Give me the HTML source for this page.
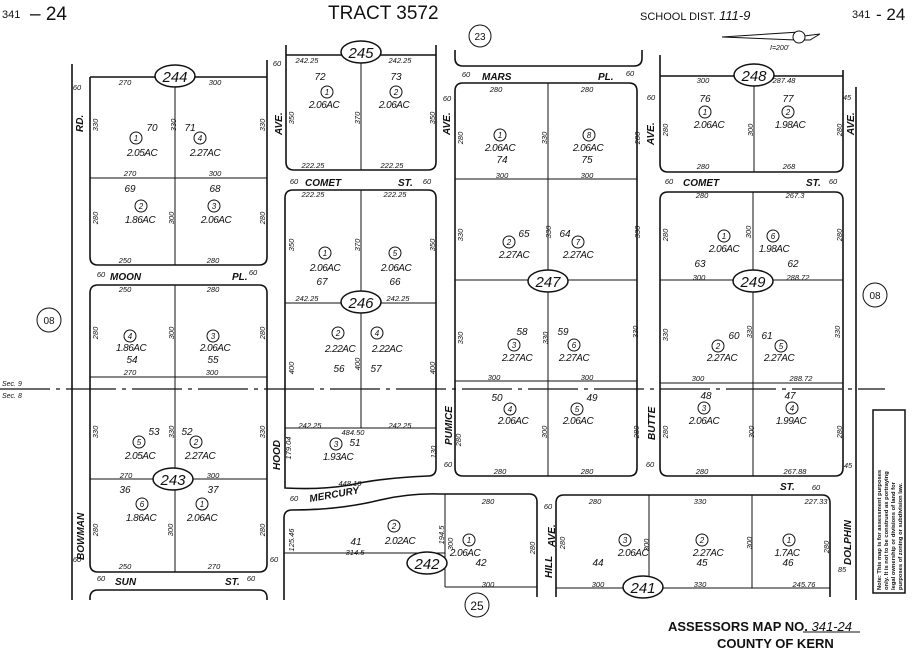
<!DOCTYPE html>
<html><head><meta charset="utf-8"><style>
body{margin:0;background:#fff}
svg{display:block}
text{font-family:"Liberation Sans",sans-serif;fill:#111}
.d{font-size:7.5px;font-style:italic;text-anchor:middle}
.n{font-size:10px;font-style:italic;text-anchor:middle}
.a{font-size:10px;font-style:italic;text-anchor:middle;letter-spacing:-0.5px}
.s{font-size:10px;font-style:italic;font-weight:bold}
.b{fill:none;stroke:#111;stroke-width:1.6}
.l{fill:none;stroke:#111;stroke-width:1}
.c{fill:#fff;stroke:#111;stroke-width:1}
.o{fill:#fff;stroke:#111;stroke-width:1.5}
.ot{font-size:15px;font-style:italic;text-anchor:middle}
</style></head><body>
<svg width="912" height="649" viewBox="0 0 912 649" xmlns="http://www.w3.org/2000/svg">
<!-- header -->
<text x="2" y="18" font-size="11">341</text><text x="30" y="20" font-size="19">– 24</text>
<text x="328" y="19" font-size="19">TRACT 3572</text>
<text x="640" y="20" font-size="11">SCHOOL DIST. <tspan font-style="italic" font-size="13">111-9</tspan></text>
<text x="852" y="18" font-size="11">341</text><text x="876" y="20" font-size="17">- 24</text>
<path d="M722,37 L800,32 L796,37 L820,34 L810,40 L796,40 Z" class="l"/>
<circle cx="799" cy="37" r="6" class="c"/>
<text x="770" y="50" font-size="7" font-style="italic">I=200'</text>

<!-- roads -->
<path class="b" d="M72,64 V600 M856,87 V600"/>
<!-- section line -->
<line x1="0" y1="389" x2="885" y2="389" stroke="#111" stroke-width="1.2" stroke-dasharray="50,6,4,6"/>

<!-- block 244 -->
<path class="b" d="M90,77 H267 M90,77 V257 Q90,265 98,265 H259 Q267,265 267,257 V60"/>
<path class="l" d="M175,77 V265 M90,178 H267"/>
<!-- block 243 -->
<path class="b" d="M90,293 Q90,285 98,285 H259 Q267,285 267,293 V564 Q267,572 259,572 H98 Q90,572 90,564 Z"/>
<path class="l" d="M175,285 V572 M90,377 H267 M90,479 H267"/>
<path class="b" d="M90,600 V598 Q90,590 98,590 H259 Q267,590 267,598 V600"/>
<!-- block 245 -->
<path class="b" d="M286,55 H436 M286,45 V162 Q286,170 294,170 H428 Q436,170 436,162 V45"/>
<path class="l" d="M361,55 V170"/>
<!-- block 246 -->
<path class="b" d="M285,198 Q285,190 293,190 H428 Q436,190 436,198 V468 Q436,476 428,476 Q380,478 350,485 Q320,490 285,488 Z"/>
<path class="l" d="M361,190 V428 M285,303 H436 M285,428 H436"/>
<!-- block 242 -->
<path class="b" d="M284,600 V518 Q284,510 292,510 Q340,510 380,500 Q410,493 440,494 H529 Q537,494 537,502 V597"/>
<path class="l" d="M445,494 V587 M284,553 H445 M445,587 H537"/>
<!-- above Mars -->
<path class="b" d="M455,50 V58 Q455,66 463,66 H634 Q642,66 642,58 V50"/>
<!-- block 247 -->
<path class="b" d="M455,91 Q455,83 463,83 H629 Q637,83 637,91 V468 Q637,476 629,476 H463 Q455,476 455,468 Z"/>
<path class="l" d="M548,83 V476 M455,179 H637 M455,280 H637 M455,381 H637"/>
<!-- block 248 -->
<path class="b" d="M660,76 H843 M660,55 V164 Q660,172 668,172 H835 Q843,172 843,164 V70"/>
<path class="l" d="M754,76 V172"/>
<!-- block 249 -->
<path class="b" d="M660,200 Q660,192 668,192 H835 Q843,192 843,200 V468 Q843,476 835,476 H668 Q660,476 660,468 Z"/>
<path class="l" d="M753,192 V476 M660,280 H843 M660,383 H843"/>
<!-- block 241 -->
<path class="b" d="M556,597 V503 Q556,495 564,495 H822 Q830,495 830,503 V597"/>
<path class="l" d="M649,495 V588 M752,495 V588 M556,588 H830"/>

<!-- circles -->
<circle cx="49" cy="320" r="12" class="c"/><text x="49" y="324" font-size="10" text-anchor="middle">08</text>
<circle cx="875" cy="295" r="12" class="c"/><text x="875" y="299" font-size="10" text-anchor="middle">08</text>
<circle cx="480" cy="36" r="11" class="c"/><text x="480" y="40" font-size="10" text-anchor="middle">23</text>
<circle cx="477" cy="605" r="12" class="c"/><text x="477" y="610" font-size="12" text-anchor="middle">25</text>

<!-- ovals -->
<g>
<ellipse cx="175" cy="76" rx="20" ry="11" class="o"/><text x="175" y="82" class="ot">244</text>
<ellipse cx="361" cy="52" rx="20" ry="11" class="o"/><text x="361" y="58" class="ot">245</text>
<ellipse cx="361" cy="302" rx="20" ry="11" class="o"/><text x="361" y="308" class="ot">246</text>
<ellipse cx="548" cy="281" rx="20" ry="11" class="o"/><text x="548" y="287" class="ot">247</text>
<ellipse cx="754" cy="75" rx="20" ry="11" class="o"/><text x="754" y="81" class="ot">248</text>
<ellipse cx="753" cy="281" rx="20" ry="11" class="o"/><text x="753" y="287" class="ot">249</text>
<ellipse cx="173" cy="479" rx="20" ry="11" class="o"/><text x="173" y="485" class="ot">243</text>
<ellipse cx="427" cy="563" rx="20" ry="11" class="o"/><text x="427" y="569" class="ot">242</text>
<ellipse cx="643" cy="587" rx="20" ry="11" class="o"/><text x="643" y="593" class="ot">241</text>
</g>

<!-- parcel circles -->
<g class="c">
<circle cx="136" cy="138" r="6"/><circle cx="200" cy="138" r="6"/><circle cx="141" cy="206" r="6"/><circle cx="214" cy="206" r="6"/>
<circle cx="130" cy="336" r="6"/><circle cx="213" cy="336" r="6"/><circle cx="139" cy="442" r="6"/><circle cx="196" cy="442" r="6"/>
<circle cx="142" cy="504" r="6"/><circle cx="202" cy="504" r="6"/>
<circle cx="327" cy="92" r="6"/><circle cx="396" cy="92" r="6"/><circle cx="325" cy="253" r="6"/><circle cx="395" cy="253" r="6"/>
<circle cx="338" cy="333" r="6"/><circle cx="377" cy="333" r="6"/><circle cx="336" cy="444" r="6"/>
<circle cx="394" cy="526" r="6"/><circle cx="469" cy="540" r="6"/>
<circle cx="500" cy="135" r="6"/><circle cx="589" cy="135" r="6"/><circle cx="509" cy="242" r="6"/><circle cx="578" cy="242" r="6"/>
<circle cx="514" cy="345" r="6"/><circle cx="574" cy="345" r="6"/><circle cx="510" cy="409" r="6"/><circle cx="577" cy="409" r="6"/>
<circle cx="705" cy="112" r="6"/><circle cx="788" cy="112" r="6"/><circle cx="724" cy="236" r="6"/><circle cx="773" cy="236" r="6"/>
<circle cx="718" cy="346" r="6"/><circle cx="781" cy="346" r="6"/><circle cx="704" cy="408" r="6"/><circle cx="792" cy="408" r="6"/>
<circle cx="625" cy="540" r="6"/><circle cx="702" cy="540" r="6"/><circle cx="789" cy="540" r="6"/>
</g>
<g font-size="8" font-style="italic" text-anchor="middle">
<text x="136" y="141">1</text><text x="200" y="141">4</text><text x="141" y="209">2</text><text x="214" y="209">3</text>
<text x="130" y="339">4</text><text x="213" y="339">3</text><text x="139" y="445">5</text><text x="196" y="445">2</text>
<text x="142" y="507">6</text><text x="202" y="507">1</text>
<text x="327" y="95">1</text><text x="396" y="95">2</text><text x="325" y="256">1</text><text x="395" y="256">5</text>
<text x="338" y="336">2</text><text x="377" y="336">4</text><text x="336" y="447">3</text>
<text x="394" y="529">2</text><text x="469" y="543">1</text>
<text x="500" y="138">1</text><text x="589" y="138">8</text><text x="509" y="245">2</text><text x="578" y="245">7</text>
<text x="514" y="348">3</text><text x="574" y="348">6</text><text x="510" y="412">4</text><text x="577" y="412">5</text>
<text x="705" y="115">1</text><text x="788" y="115">2</text><text x="724" y="239">1</text><text x="773" y="239">6</text>
<text x="718" y="349">2</text><text x="781" y="349">5</text><text x="704" y="411">3</text><text x="792" y="411">4</text>
<text x="625" y="543">3</text><text x="702" y="543">2</text><text x="789" y="543">1</text>
</g>

<!-- acreage & parcel numbers -->
<g class="a">
<text x="142" y="156">2.05AC</text><text x="205" y="156">2.27AC</text><text x="140" y="223">1.86AC</text><text x="216" y="223">2.06AC</text>
<text x="131" y="351">1.86AC</text><text x="215" y="351">2.06AC</text><text x="140" y="459">2.05AC</text><text x="200" y="459">2.27AC</text>
<text x="141" y="521">1.86AC</text><text x="202" y="521">2.06AC</text>
<text x="324" y="108">2.06AC</text><text x="394" y="108">2.06AC</text><text x="325" y="271">2.06AC</text><text x="396" y="271">2.06AC</text>
<text x="340" y="352">2.22AC</text><text x="387" y="352">2.22AC</text><text x="338" y="460">1.93AC</text>
<text x="400" y="544">2.02AC</text><text x="465" y="556">2.06AC</text>
<text x="500" y="151">2.06AC</text><text x="588" y="151">2.06AC</text><text x="514" y="258">2.27AC</text><text x="578" y="258">2.27AC</text>
<text x="517" y="361">2.27AC</text><text x="574" y="361">2.27AC</text><text x="513" y="424">2.06AC</text><text x="578" y="424">2.06AC</text>
<text x="709" y="128">2.06AC</text><text x="790" y="128">1.98AC</text><text x="724" y="252">2.06AC</text><text x="774" y="252">1.98AC</text>
<text x="722" y="361">2.27AC</text><text x="779" y="361">2.27AC</text><text x="704" y="424">2.06AC</text><text x="791" y="424">1.99AC</text>
<text x="633" y="556">2.06AC</text><text x="708" y="556">2.27AC</text><text x="787" y="556">1.7AC</text>
</g>
<g class="n">
<text x="152" y="131">70</text><text x="190" y="131">71</text><text x="130" y="192">69</text><text x="215" y="192">68</text>
<text x="132" y="363">54</text><text x="213" y="363">55</text><text x="154" y="435">53</text><text x="187" y="435">52</text>
<text x="125" y="493">36</text><text x="213" y="493">37</text>
<text x="320" y="80">72</text><text x="396" y="80">73</text><text x="322" y="285">67</text><text x="395" y="285">66</text>
<text x="339" y="372">56</text><text x="376" y="372">57</text><text x="355" y="446">51</text>
<text x="356" y="545">41</text><text x="481" y="566">42</text>
<text x="502" y="163">74</text><text x="587" y="163">75</text><text x="524" y="237">65</text><text x="565" y="237">64</text>
<text x="522" y="335">58</text><text x="563" y="335">59</text><text x="497" y="401">50</text><text x="592" y="401">49</text>
<text x="705" y="102">76</text><text x="788" y="102">77</text><text x="700" y="267">63</text><text x="793" y="267">62</text>
<text x="734" y="339">60</text><text x="767" y="339">61</text><text x="706" y="399">48</text><text x="790" y="399">47</text>
<text x="598" y="566">44</text><text x="702" y="566">45</text><text x="788" y="566">46</text>
</g>

<!-- horizontal dimensions -->
<g class="d">
<text x="125" y="85">270</text><text x="215" y="85">300</text><text x="130" y="176">270</text><text x="215" y="176">300</text>
<text x="125" y="263">250</text><text x="213" y="263">280</text><text x="125" y="292">250</text><text x="213" y="292">280</text>
<text x="130" y="375">270</text><text x="212" y="375">300</text><text x="126" y="478">270</text><text x="213" y="478">300</text>
<text x="125" y="569">250</text><text x="214" y="569">270</text>
<text x="307" y="63">242.25</text><text x="400" y="63">242.25</text><text x="313" y="168">222.25</text><text x="392" y="168">222.25</text>
<text x="313" y="197">222.25</text><text x="395" y="197">222.25</text><text x="307" y="301">242.25</text><text x="398" y="301">242.25</text>
<text x="310" y="428">242.25</text><text x="400" y="428">242.25</text><text x="353" y="435">484.50</text><text x="350" y="486">448.10</text>
<text x="355" y="555">314.5</text><text x="488" y="504">280</text><text x="488" y="587">300</text>
<text x="496" y="92">280</text><text x="587" y="92">280</text><text x="502" y="178">300</text><text x="587" y="178">300</text>
<text x="494" y="380">300</text><text x="587" y="380">300</text><text x="500" y="474">280</text><text x="587" y="474">280</text>
<text x="703" y="83">300</text><text x="784" y="83">287.48</text><text x="703" y="169">280</text><text x="789" y="169">268</text>
<text x="702" y="198">280</text><text x="795" y="198">267.3</text><text x="699" y="280">300</text><text x="798" y="280">288.72</text>
<text x="698" y="381">300</text><text x="801" y="381">288.72</text><text x="702" y="474">280</text><text x="795" y="474">267.88</text>
<text x="595" y="504">280</text><text x="700" y="504">330</text><text x="816" y="504">227.33</text>
<text x="598" y="587">300</text><text x="700" y="587">330</text><text x="804" y="587">245.76</text>
<text x="77" y="90">60</text><text x="77" y="562">60</text><text x="277" y="66">60</text><text x="274" y="562">60</text>
<text x="447" y="101">60</text><text x="448" y="467">60</text><text x="651" y="100">60</text><text x="650" y="467">60</text>
<text x="847" y="100">45</text><text x="848" y="468">45</text><text x="842" y="572">85</text>
</g>
<!-- vertical dimensions -->
<g class="d">
<text transform="translate(98,125) rotate(-90)">330</text><text transform="translate(176,125) rotate(-90)">330</text><text transform="translate(265,125) rotate(-90)">330</text>
<text transform="translate(98,218) rotate(-90)">280</text><text transform="translate(174,218) rotate(-90)">300</text><text transform="translate(265,218) rotate(-90)">280</text>
<text transform="translate(98,333) rotate(-90)">280</text><text transform="translate(174,333) rotate(-90)">300</text><text transform="translate(265,333) rotate(-90)">280</text>
<text transform="translate(98,432) rotate(-90)">330</text><text transform="translate(174,432) rotate(-90)">330</text><text transform="translate(265,432) rotate(-90)">330</text>
<text transform="translate(98,530) rotate(-90)">280</text><text transform="translate(173,530) rotate(-90)">300</text><text transform="translate(265,530) rotate(-90)">280</text>
<text transform="translate(294,118) rotate(-90)">350</text><text transform="translate(360,118) rotate(-90)">370</text><text transform="translate(435,118) rotate(-90)">350</text>
<text transform="translate(294,245) rotate(-90)">350</text><text transform="translate(360,245) rotate(-90)">370</text><text transform="translate(435,245) rotate(-90)">350</text>
<text transform="translate(294,368) rotate(-90)">400</text><text transform="translate(360,364) rotate(-90)">400</text><text transform="translate(435,368) rotate(-90)">400</text>
<text transform="translate(291,448) rotate(-90)">179.04</text><text transform="translate(436,452) rotate(-90)">130</text>
<text transform="translate(294,540) rotate(-90)">125.46</text><text transform="translate(444,535) rotate(-90)">194.5</text><text transform="translate(453,544) rotate(-90)">300</text><text transform="translate(535,548) rotate(-90)">280</text>
<text transform="translate(463,138) rotate(-90)">280</text><text transform="translate(547,138) rotate(-90)">330</text><text transform="translate(640,138) rotate(-90)">280</text>
<text transform="translate(463,235) rotate(-90)">330</text><text transform="translate(551,232) rotate(-90)">330</text><text transform="translate(640,232) rotate(-90)">330</text>
<text transform="translate(463,338) rotate(-90)">330</text><text transform="translate(548,338) rotate(-90)">330</text><text transform="translate(638,332) rotate(-90)">330</text>
<text transform="translate(461,440) rotate(-90)">280</text><text transform="translate(547,432) rotate(-90)">300</text><text transform="translate(639,432) rotate(-90)">280</text>
<text transform="translate(668,130) rotate(-90)">280</text><text transform="translate(753,130) rotate(-90)">300</text><text transform="translate(842,130) rotate(-90)">280</text>
<text transform="translate(668,235) rotate(-90)">280</text><text transform="translate(751,232) rotate(-90)">300</text><text transform="translate(842,235) rotate(-90)">280</text>
<text transform="translate(668,335) rotate(-90)">330</text><text transform="translate(752,332) rotate(-90)">330</text><text transform="translate(840,332) rotate(-90)">330</text>
<text transform="translate(668,432) rotate(-90)">280</text><text transform="translate(754,432) rotate(-90)">300</text><text transform="translate(842,432) rotate(-90)">280</text>
<text transform="translate(565,543) rotate(-90)">280</text><text transform="translate(649,545) rotate(-90)">300</text><text transform="translate(752,543) rotate(-90)">300</text><text transform="translate(829,547) rotate(-90)">280</text>
</g>

<!-- streets -->
<g class="s">
<text x="110" y="280">MOON</text><text x="232" y="280">PL.</text>
<text x="115" y="585">SUN</text><text x="225" y="585">ST.</text>
<text x="305" y="186">COMET</text><text x="398" y="186">ST.</text>
<text x="482" y="80">MARS</text><text x="598" y="80">PL.</text>
<text x="683" y="186">COMET</text><text x="806" y="186">ST.</text>
<text x="780" y="490">ST.</text>
<text transform="translate(310,502) rotate(-10)">MERCURY</text>
<text transform="translate(83,132) rotate(-90)">RD.</text>
<text transform="translate(84,560) rotate(-90)">BOWMAN</text>
<text transform="translate(282,135) rotate(-90)">AVE.</text>
<text transform="translate(280,470) rotate(-90)">HOOD</text>
<text transform="translate(450,135) rotate(-90)">AVE.</text>
<text transform="translate(452,445) rotate(-90)">PUMICE</text>
<text transform="translate(654,145) rotate(-90)">AVE.</text>
<text transform="translate(655,440) rotate(-90)">BUTTE</text>
<text transform="translate(854,135) rotate(-90)">AVE.</text>
<text transform="translate(851,565) rotate(-90)">DOLPHIN</text>
<text transform="translate(555,547) rotate(-90)">AVE.</text>
<text transform="translate(552,578) rotate(-90)">HILL</text>
</g>
<g class="d">
<text x="101" y="277">60</text><text x="253" y="275">60</text><text x="101" y="581">60</text><text x="251" y="581">60</text>
<text x="294" y="184">60</text><text x="427" y="184">60</text><text x="466" y="77">60</text><text x="630" y="76">60</text>
<text x="669" y="184">60</text><text x="833" y="184">60</text><text x="816" y="490">60</text><text x="294" y="501">60</text><text x="548" y="509">60</text>
</g>
<text x="2" y="386" font-size="7" font-style="italic">Sec. 9</text>
<text x="2" y="398" font-size="7" font-style="italic">Sec. 8</text>

<!-- note -->
<rect x="873" y="410" width="32" height="183" fill="#fff" stroke="#111" stroke-width="1.5"/>
<g font-size="5.8" font-weight="bold">
<text transform="translate(881,590) rotate(-90)">Note: This map is for assessment purposes</text>
<text transform="translate(888,590) rotate(-90)">only. It is not to be construed as portraying</text>
<text transform="translate(895,590) rotate(-90)">legal ownership or divisions of land for</text>
<text transform="translate(902,590) rotate(-90)">purposes of zoning or subdivision law.</text>
</g>

<text x="668" y="631" font-size="13" font-weight="bold">ASSESSORS MAP NO. <tspan font-weight="normal" font-style="italic">341-24</tspan></text>
<line x1="803" y1="632" x2="860" y2="632" stroke="#111"/>
<text x="717" y="648" font-size="13" font-weight="bold">COUNTY OF KERN</text>
</svg>
</body></html>
